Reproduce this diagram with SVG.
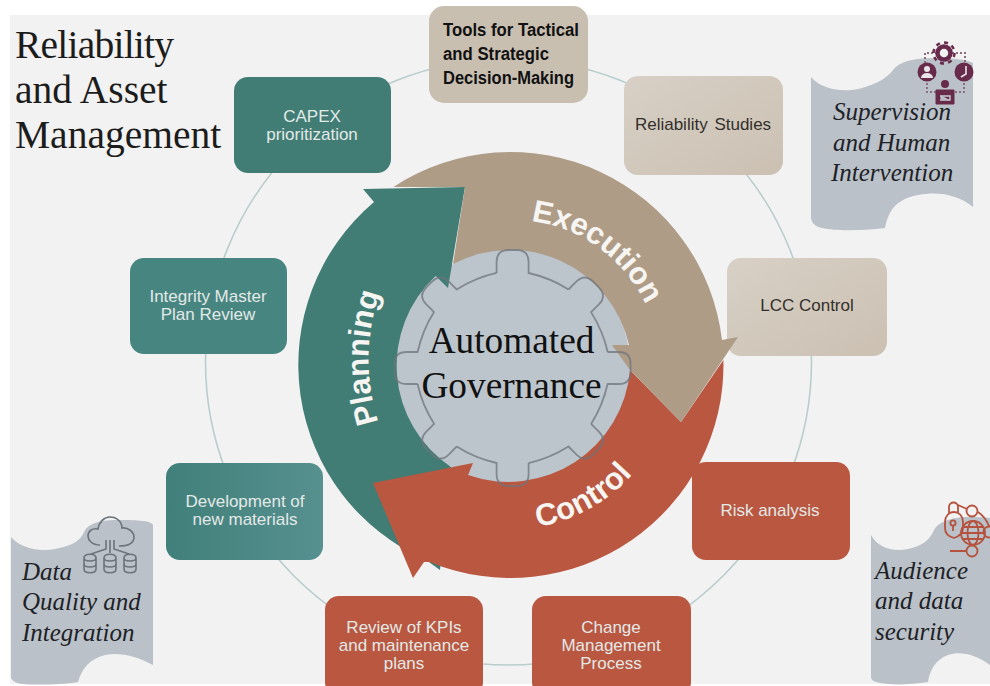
<svg xmlns="http://www.w3.org/2000/svg" xmlns:xlink="http://www.w3.org/1999/xlink" width="990" height="686" viewBox="0 0 990 686">
<style>
.box{stroke:none}
.lt{font-family:"Liberation Sans",Arial,sans-serif;font-size:17px;fill:#e3e9e7;text-anchor:middle}
.dk{font-family:"Liberation Sans",Arial,sans-serif;font-size:17px;fill:#33302c;text-anchor:middle}
.tb{font-family:"Liberation Sans",Arial,sans-serif;font-size:18px;font-weight:bold;fill:#111}
.it{font-family:"Liberation Serif","Times New Roman",serif;font-size:25px;font-style:italic;fill:#1e2226}
.ttl{font-family:"Liberation Serif","Times New Roman",serif;font-size:39.5px;fill:#1c1c1c}
.ctr{font-family:"Liberation Serif","Times New Roman",serif;font-size:37.3px;fill:#111;text-anchor:middle}
.arc{font-family:"Liberation Sans",Arial,sans-serif;font-size:31px;font-weight:bold;fill:#f7f5f2}
.scroll{fill:#bac1c8}
.ink{fill:none;stroke:#6b747b;stroke-width:1.6}
.ma{fill:none;stroke:#8c6d82;stroke-width:2;stroke-dasharray:2 2}
.re{fill:none;stroke:#b5523e;stroke-width:1.8}
</style>
<defs>
<linearGradient id="tan" x1="0" y1="0" x2="1" y2="1"><stop offset="0" stop-color="#d8d0c6"/><stop offset="1" stop-color="#cbc0b2"/></linearGradient>
<linearGradient id="teal2" x1="0" y1="0" x2="1" y2="0"><stop offset="0" stop-color="#41807a"/><stop offset="1" stop-color="#56908f"/></linearGradient>
<path id="tooth" d="M-16,-95V-106Q-16,-118 -4,-118H4Q16,-118 16,-106V-95Q38,-90 55.9,-78.5"/>
<path id="pEx" d="M520,220A148,148 0 0 1 660,368"/>
<path id="pCo" d="M530,528A163,163 0 0 0 665,418"/>
<path id="pPl" d="M379,424A200,200 0 0 1 390,270"/>
</defs>
<rect width="990" height="686" fill="#fff"/>
<rect x="10" y="15" width="980" height="669" fill="#f2f2f2"/>

<g id="connectors"><circle cx="508.5" cy="362" r="303" fill="none" stroke="#b9cdcd" stroke-width="1.6"/></g>

<g id="node-tools"><rect class="box" x="429" y="6" width="159" height="97" rx="15" fill="#c9bfb1"/>
<text class="tb" x="443" y="36" textLength="136" lengthAdjust="spacingAndGlyphs">Tools for Tactical</text>
<text class="tb" x="443" y="60" textLength="106" lengthAdjust="spacingAndGlyphs">and Strategic</text>
<text class="tb" x="443" y="84" textLength="131" lengthAdjust="spacingAndGlyphs">Decision-Making</text></g>
<g id="node-capex"><rect class="box" x="234" y="77" width="157" height="96" rx="14" fill="#417d75"/>
<text class="lt" x="312" y="122">CAPEX</text><text class="lt" x="312" y="140">prioritization</text></g>
<g id="node-reliability"><rect class="box" x="624" y="76" width="159" height="99" rx="14" fill="url(#tan)"/>
<text class="dk" x="703" y="130" word-spacing="2">Reliability Studies</text></g>
<g id="node-lcc"><rect class="box" x="727" y="258" width="160" height="98" rx="14" fill="url(#tan)"/>
<text class="dk" x="807" y="311">LCC Control</text></g>
<g id="node-risk"><rect class="box" x="692" y="462" width="158" height="98" rx="14" fill="#b95740"/>
<text class="lt" x="770" y="516">Risk analysis</text></g>
<g id="node-change"><rect class="box" x="532" y="596" width="159" height="100" rx="14" fill="#b95740"/>
<text class="lt" x="611" y="633">Change</text><text class="lt" x="611" y="651">Management</text><text class="lt" x="611" y="669">Process</text></g>
<g id="node-review"><rect class="box" x="325" y="596" width="158" height="100" rx="14" fill="#b95740"/>
<text class="lt" x="404" y="633">Review of KPIs</text><text class="lt" x="404" y="651">and maintenance</text><text class="lt" x="404" y="669">plans</text></g>
<g id="node-development"><rect class="box" x="166" y="463" width="157" height="97" rx="14" fill="url(#teal2)"/>
<text class="lt" x="245" y="507">Development of</text><text class="lt" x="245" y="525">new materials</text></g>
<g id="node-integrity"><rect class="box" x="130" y="258" width="157" height="96" rx="14" fill="#478580"/>
<text class="lt" x="208" y="302">Integrity Master</text><text class="lt" x="208" y="320">Plan Review</text></g>

<g id="hub">
<circle cx="512" cy="366" r="118" fill="#bcc4cc"/>
<path d="M465,187L363,189L374,202A213,213 0 0 0 426,560L440,570L451,467A122,122 0 0 1 435.7,276L448,288Z" fill="#417d75"/>
<path d="M473,463L468,475A122,122 0 0 0 630,370L681,422L723.4,360A213,213 0 0 1 429.5,562L424,562L413,578L373,483Z" fill="#b95740"/>
<path d="M390,187L393.5,187A213,213 0 0 1 722,340L738,337L681,422L630,370L612,345L629,345A122,122 0 0 0 453,264L465,187Z" fill="#ae9c87"/>
<g id="gear" transform="translate(512.6,368)" fill="none" stroke="#6f747c" stroke-opacity=".75" stroke-width="1.8">
<use xlink:href="#tooth" href="#tooth"/>
<use xlink:href="#tooth" href="#tooth" transform="rotate(45)"/>
<use xlink:href="#tooth" href="#tooth" transform="rotate(90)"/>
<use xlink:href="#tooth" href="#tooth" transform="rotate(135)"/>
<use xlink:href="#tooth" href="#tooth" transform="rotate(180)"/>
<use xlink:href="#tooth" href="#tooth" transform="rotate(225)"/>
<use xlink:href="#tooth" href="#tooth" transform="rotate(270)"/>
<use xlink:href="#tooth" href="#tooth" transform="rotate(315)"/>
</g>
<text class="ctr" x="511.5" y="353">Automated</text>
<text class="ctr" x="511.5" y="398">Governance</text>
<text class="arc" font-size="32"><textPath xlink:href="#pPl" href="#pPl" startOffset="2">Planning</textPath></text>
<text class="arc"><textPath xlink:href="#pEx" href="#pEx" startOffset="11">Execution</textPath></text>
<text class="arc"><textPath xlink:href="#pCo" href="#pCo" startOffset="8">Control</textPath></text>
</g>

<g id="title"><text class="ttl" x="15" y="58" textLength="159">Reliability</text><text class="ttl" x="15" y="103">and Asset</text><text class="ttl" x="15" y="148">Management</text></g>

<g id="scroll-supervision">
<path class="scroll" d="M811,77C822,90 845,93 862,88C882,82 888,76 893,70C899,62 912,58 935,58C955,58 968,60 973,63V207C958,195 940,191 918,195C898,199 889,208 885,228C860,231 835,231 822,228C814,226 811,222 811,217Z"/>
<path class="ma" d="M937,53H925V63M952,53H965V62M927,83V92H936M964,83V92H955"/>
<circle cx="944" cy="53" r="6.5" fill="none" stroke="#682a4b" stroke-width="4.5"/>
<circle cx="944" cy="53" r="10.5" fill="none" stroke="#682a4b" stroke-width="2.5" stroke-dasharray="4 4.2"/>
<circle cx="927" cy="72" r="9.5" fill="#682a4b"/><circle cx="927" cy="69" r="3" fill="#e8e4e8"/><path d="M921,78a6,5 0 0 1 12,0Z" fill="#e8e4e8"/>
<circle cx="964" cy="72" r="9.5" fill="#682a4b"/><path d="M966,66V74L961,77" fill="none" stroke="#e8e4e8" stroke-width="1.6"/>
<circle cx="945" cy="84" r="4" fill="#682a4b"/><path d="M936,90H954V104H936ZM940,95V100H950" fill="#682a4b" stroke="#682a4b" stroke-width="1"/><path d="M940,96H950V100H940" fill="none" stroke="#c9ccd2" stroke-width="1.4"/>
<text class="it" x="833" y="120">Supervision</text><text class="it" x="833" y="151">and Human</text><text class="it" x="831" y="181">Intervention</text>
</g>

<g id="scroll-audience">
<path class="scroll" d="M871,535C878,548 893,552 908,549C922,546 930,540 934,530C938,522 950,518 965,517C975,517 985,517 990,518V665C975,654 960,651 948,655C935,660 930,670 928,682C910,685 890,685 880,683C874,682 871,680 871,677Z"/>
<path class="re" d="M945,522C945,516 949,512 954,512C959,512 963,516 963,522V528C963,534 957,537 954,538C950,537 945,534 945,528ZM949,513V507C949,501 958,501 958,507V513"/>
<circle class="re" cx="953" cy="523" r="2.6"/><path class="re" d="M953,525V531"/>
<circle class="re" cx="973" cy="533" r="12"/><ellipse class="re" cx="973" cy="533" rx="5.5" ry="12"/><path class="re" d="M961,533H985M963,527H983M963,539H983"/>
<circle class="re" cx="972" cy="511" r="5.5"/><circle class="re" cx="972" cy="551" r="5.5"/><circle class="re" cx="989" cy="532" r="5.5"/>
<path class="re" d="M958,505L967,509M978,512C984,516 987,521 989,526M950,551H966"/>
<text class="it" x="875" y="579">Audience</text><text class="it" x="875" y="609">and data</text><text class="it" x="875" y="640">security</text>
</g>

<g id="scroll-data">
<path class="scroll" d="M11,537C20,548 40,552 55,549C70,546 80,542 84,532C87,524 100,520 115,520C135,520 150,520 153,525V665C135,655 118,652 105,655C90,659 82,668 78,682C60,685 35,685 22,684C15,683 11,680 11,677Z"/>
<path class="ink" d="M100,545C92,545 88,540 88,536C88,531 92,528 98,529C99,522 104,517 110,517C117,517 122,522 122,528C128,527 134,532 134,537C134,543 128,546 119,546M106,540V549L91,554M110,540V553M114,540V549L129,554"/>
<g id="db" class="ink"><path d="M84,558C84,553 96,553 96,558V569C96,574 84,574 84,569ZM84,558C84,562 96,562 96,558M84,564C84,568 96,568 96,564"/>
<path d="M104,558C104,553 116,553 116,558V569C116,574 104,574 104,569ZM104,558C104,562 116,562 116,558M104,564C104,568 116,568 116,564"/>
<path d="M124,558C124,553 136,553 136,558V569C136,574 124,574 124,569ZM124,558C124,562 136,562 136,558M124,564C124,568 136,568 136,564"/></g>
<text class="it" x="22" y="580">Data</text><text class="it" x="22" y="610">Quality and</text><text class="it" x="22" y="641">Integration</text>
</g>
</svg>
